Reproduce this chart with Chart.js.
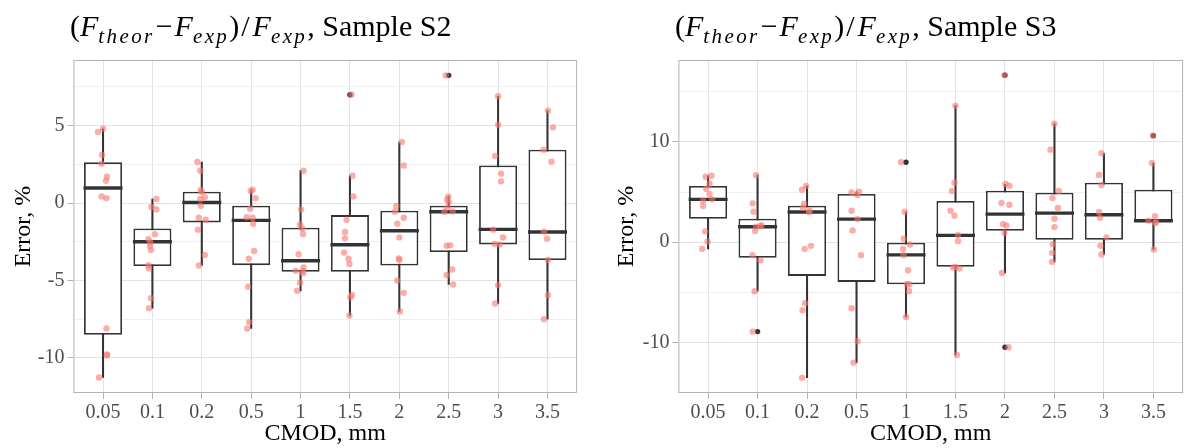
<!DOCTYPE html>
<html>
<head>
<meta charset="utf-8">
<script src="https://cdn.jsdelivr.net/npm/chart.js@4/dist/chart.umd.min.js"></script>
<style>
  body { margin: 0; width: 1202px; height: 448px; overflow: hidden; background: #fff; position: relative;
         font-family: 'Liberation Serif', 'Times New Roman', serif; }
  .panel { position: absolute; top: 0; height: 448px; }
  #leftPanel { left: 0; width: 600px; }
  #rightPanel { left: 600px; width: 606px; }
  .title { position: absolute; top: 6px; font-size: 30px; line-height: 40px; white-space: nowrap; color: #000; }
  .title i { font-style: italic; }
  .title sub { font-size: 21px; font-style: italic; letter-spacing: 2.4px; vertical-align: -7px; line-height: 0; }
  .title .m { padding: 0 2px 0 1px; }
  .title .s { padding: 0 3px 0 2px; }
</style>
</head>
<body>
<div class="panel" id="leftPanel">
  <canvas id="chartS2" width="600" height="448"></canvas>
  <div class="title" style="left:70px">(<i>F</i><sub>theor</sub><span class="m">−</span><i>F</i><sub>exp</sub>)<span class="s">/</span><i>F</i><sub>exp</sub>, Sample S2</div>
</div>
<div class="panel" id="rightPanel">
  <canvas id="chartS3" width="606" height="448"></canvas>
  <div class="title" style="left:75px">(<i>F</i><sub>theor</sub><span class="m">−</span><i>F</i><sub>exp</sub>)<span class="s">/</span><i>F</i><sub>exp</sub>, Sample S3</div>
</div>
<script>
///////Data
const cmod = ['0.05', '0.1', '0.2', '0.5', '1', '1.5', '2', '2.5', '3', '3.5'];

// Sample S2 box stats
const s2Lower = [-11.27, -6.79, -4.03, -8.10, -5.67, -7.26, -7.00, -5.26, -6.49, -7.50];
const s2Q1 = [-8.51, -4.07, -1.25, -4.01, -4.44, -4.44, -4.03, -3.17, -2.67, -3.68];
const s2Median = [0.97, -2.50, 0.04, -1.12, -3.73, -2.69, -1.79, -0.56, -1.70, -1.87];
const s2Q3 = [2.63, -1.64, 0.73, -0.17, -1.60, -0.78, -0.50, -0.17, 2.43, 3.45];
const s2Upper = [4.80, 0.26, 2.65, 0.86, 2.09, 1.76, 3.94, 0.41, 6.90, 5.97];
const s2OutCat = ['1.5', '2.5'];
const s2OutVal = [7.00, 8.25];
const s2Points = [
  [4.59, 4.80, 3.10, 2.54, 1.70, 1.44, 0.43, 0.32, -8.10, -9.78, -9.85, -11.27],
  [0.26, -0.26, -0.41, -2.02, -2.33, -2.55, -2.78, -3.04, -4.01, -4.22, -6.14, -6.79],
  [2.65, 2.09, 0.84, 0.73, 0.37, 0.26, -0.17, -0.95, -1.08, -1.72, -3.36, -4.03],
  [0.86, 0.78, 0.32, -0.37, -0.92, -0.95, -1.34, -3.10, -3.60, -5.41, -7.69, -8.10],
  [2.09, -0.41, -1.38, -1.64, -2.00, -3.30, -4.16, -4.38, -4.38, -4.53, -5.15, -5.67],
  [7.00, 1.76, 0.43, -1.08, -1.87, -2.28, -3.19, -3.60, -3.94, -5.93, -6.10, -7.26],
  [3.94, 2.43, -0.19, -0.56, -0.95, -1.34, -2.22, -3.58, -3.68, -5.00, -5.80, -7.00],
  [8.25, 0.41, 0.22, 0.06, -0.30, -0.56, -0.54, -2.76, -2.72, -4.29, -4.65, -5.26],
  [6.90, 5.06, 3.04, 1.90, 1.40, -1.72, -2.22, -2.65, -2.67, -5.30, -6.49],
  [5.97, 4.89, 3.45, 2.67, -1.85, -2.31, -3.68, -5.95, -7.50]
];
const s2Jitter = [
  [-0.10, 0.00, -0.02, -0.03, 0.08, 0.06, -0.03, 0.07, 0.07, 0.08, 0.08, -0.08],
  [0.08, -0.02, 0.08, 0.05, -0.08, -0.04, -0.05, -0.03, -0.08, -0.07, -0.03, -0.07],
  [-0.09, -0.03, -0.02, 0.00, 0.06, -0.03, -0.02, -0.06, 0.08, -0.08, 0.06, -0.06],
  [0.03, -0.01, 0.09, -0.02, -0.09, 0.03, 0.04, 0.06, -0.05, -0.06, -0.04, -0.08],
  [0.06, 0.01, -0.01, 0.03, 0.05, -0.04, 0.06, -0.10, 0.04, 0.05, -0.01, -0.07],
  [0.03, 0.05, 0.07, -0.07, -0.10, -0.10, -0.12, -0.03, -0.01, 0.04, 0.01, -0.01],
  [0.05, 0.09, -0.06, -0.09, 0.09, -0.04, 0.00, -0.01, 0.00, -0.04, 0.09, 0.01],
  [-0.06, -0.01, -0.03, 0.00, -0.03, -0.09, 0.08, -0.04, 0.03, 0.07, -0.04, 0.09],
  [0.00, 0.00, -0.06, 0.06, 0.06, -0.10, 0.10, -0.07, 0.03, 0.00, -0.06],
  [0.01, 0.11, -0.08, 0.08, -0.07, -0.01, 0.01, 0.01, -0.07]
];
const s2GridVals = [-10, -7.5, -5, -2.5, 0, 2.5, 5, 7.5];
const s2TickLabels = [-10, -5, 0, 5];

// Sample S3 box stats
const s3Lower = [-0.67, -4.90, -13.53, -12.03, -7.47, -11.27, -3.07, -1.97, -1.23, -0.73];
const s3Q1 = [2.33, -1.57, -3.37, -3.97, -4.20, -2.47, 1.13, 0.23, 0.23, 2.03];
const s3Median = [4.27, 1.53, 3.00, 2.30, -1.27, 0.67, 2.80, 2.90, 2.73, 2.13];
const s3Q3 = [5.60, 2.33, 3.63, 4.80, 0.00, 4.10, 5.13, 4.93, 5.93, 5.23];
const s3Upper = [6.63, 6.67, 5.60, 5.03, 3.03, 13.63, 5.75, 11.83, 8.87, 7.90];
const s3OutCat = ['0.1', '1', '2', '2', '3.5'];
const s3OutVal = [-8.93, 7.97, 16.67, -10.50, 10.63];
const s3Points = [
  [6.63, 6.53, 5.83, 5.33, 4.80, 4.27, 4.13, 3.60, 1.07, 0.07, -0.67],
  [6.67, 3.87, 3.03, 1.70, 1.60, 1.53, 1.10, -1.30, -1.80, -4.90, -8.93],
  [5.60, 5.23, 3.83, 3.43, 3.17, 2.97, -0.37, -0.67, -6.10, -6.80, -13.53],
  [5.03, 4.97, 4.70, 3.13, 2.30, 1.17, -1.30, -6.60, -9.90, -12.03],
  [7.97, 3.03, 0.33, -0.23, -0.67, -1.30, -2.80, -4.20, -4.20, -4.90, -7.47],
  [13.63, 5.93, 5.10, 3.13, 2.63, 0.70, 0.10, -2.47, -2.53, -2.63, -11.27],
  [16.67, 5.80, 5.63, 3.90, 3.73, 1.80, 1.67, 0.93, -3.07, -10.50],
  [11.83, 9.23, 5.10, 4.40, 3.40, 2.33, 1.50, -0.20, -1.07, -1.97],
  [8.87, 6.70, 5.70, 3.00, 2.43, 0.47, -0.37, -1.23],
  [10.63, 7.90, 2.60, 2.13, 2.03, 1.90, -0.73]
];
const s3Jitter = [
  [0.07, -0.05, 0.03, -0.04, 0.03, 0.08, -0.10, -0.10, -0.06, -0.01, -0.12],
  [-0.03, -0.10, -0.08, 0.08, 0.05, -0.03, -0.05, -0.10, 0.06, -0.06, -0.10],
  [-0.02, -0.10, -0.06, -0.08, 0.05, 0.04, 0.08, -0.05, -0.04, -0.09, -0.10],
  [0.05, -0.10, 0.02, -0.10, 0.02, -0.08, 0.09, -0.10, 0.02, -0.06],
  [-0.10, -0.03, -0.05, 0.08, -0.06, -0.05, 0.04, 0.02, 0.07, 0.06, 0.00],
  [0.00, -0.02, -0.07, -0.10, -0.02, 0.05, 0.05, 0.00, -0.05, 0.08, 0.03],
  [-0.01, 0.01, 0.09, -0.07, 0.09, -0.04, 0.03, -0.01, -0.06, 0.07],
  [0.00, -0.08, 0.09, -0.04, 0.07, 0.00, 0.00, -0.03, -0.05, -0.05],
  [-0.05, -0.10, -0.05, -0.10, -0.08, 0.05, -0.07, -0.05],
  [-0.01, -0.03, 0.03, -0.10, 0.05, 0.04, 0.01]
];
const s3GridVals = [-15, -10, -5, 0, 5, 10, 15];
const s3TickLabels = [-10, 0, 10];

//////Styles
const serif = "'Liberation Serif', 'Times New Roman', serif";
const lineCol = '#333333';
const pointCol = 'rgba(248, 118, 109, 0.6)';

// ggplot-like panel border on all four sides
const panelBorder = {
  id: 'panelBorder',
  afterDraw(chart) {
    const { ctx, chartArea: a } = chart;
    ctx.save();
    ctx.strokeStyle = '#b3b3b3';
    ctx.lineWidth = 1;
    ctx.strokeRect(a.left + 0.5, a.top + 0.5, a.right - a.left - 1, a.bottom - a.top - 1);
    ctx.restore();
  }
};

function makeChart(id, d) {
  const whiskers = d.lower.map((lo, i) => ({ x: i, y: [lo, d.upper[i]] }));
  const boxes = d.q1.map((q, i) => ({ x: i, y: [q, d.q3[i]] }));
  const medians = d.median.map((m, i) => ({ x: i, y: m }));
  const outliers = d.outCat.map((c, i) => ({ x: cmod.indexOf(c), y: d.outVal[i] }));
  const jitter = [];
  d.points.forEach((grp, i) => {
    grp.forEach((v, k) => jitter.push({ x: i + d.jitter[i][k], y: v }));
  });

  return new Chart(document.getElementById(id), {
    type: 'bar',
    data: {
      datasets: [
        { type: 'bar', data: whiskers, backgroundColor: lineCol, borderWidth: 0,
          barThickness: 1.4, grouped: false, order: 5 },
        { type: 'bar', data: boxes, backgroundColor: '#ffffff', borderColor: lineCol, borderWidth: 1.8,
          borderSkipped: false, barPercentage: 0.77, categoryPercentage: 1, grouped: false, order: 4 },
        { type: 'scatter', data: medians, pointStyle: 'line', pointRadius: 19.5, borderColor: lineCol,
          borderWidth: 3.4, order: 3 },
        { type: 'scatter', data: outliers, backgroundColor: lineCol, pointRadius: 2.7, borderWidth: 0, order: 2 },
        { type: 'scatter', data: jitter, backgroundColor: pointCol, pointRadius: 3.2, borderWidth: 0, order: 1 }
      ]
    },
    options: {
      responsive: false,
      animation: false,
      events: [],
      layout: { padding: { top: 60, right: d.padRight, bottom: 0, left: 0 } },
      plugins: { legend: { display: false }, tooltip: { enabled: false } },
      scales: {
        x: {
          type: 'linear',
          min: -0.6,
          max: 9.6,
          offset: false,
          afterBuildTicks: (s) => { s.ticks = cmod.map((c, i) => ({ value: i })); },
          afterFit: (s) => { s.height = 55; },
          ticks: {
            callback: (v, i) => cmod[i],
            autoSkip: false, maxRotation: 0, padding: 2,
            color: '#4d4d4d', font: { family: serif, size: 20 }
          },
          grid: { offset: false, color: '#e3e3e3', lineWidth: 1, tickColor: '#b3b3b3', tickLength: 6 },
          border: { display: false },
          title: { display: true, text: 'CMOD, mm', color: '#000', font: { family: serif, size: 24 },
                   padding: { top: 0, bottom: 0 } }
        },
        y: {
          min: d.yMin,
          max: d.yMax,
          afterBuildTicks: (s) => { s.ticks = d.gridVals.map((v) => ({ value: v })); },
          afterFit: (s) => { s.width = d.yWidth; },
          ticks: {
            callback: (v) => (d.tickLabels.includes(v) ? String(v) : ''),
            padding: 3, color: '#4d4d4d', font: { family: serif, size: 20 }
          },
          grid: {
            color: (c) => (d.tickLabels.includes(c.tick.value) ? '#e3e3e3' : '#f0f0f0'),
            tickColor: (c) => (d.tickLabels.includes(c.tick.value) ? '#b3b3b3' : 'rgba(0,0,0,0)'),
            lineWidth: 1, tickLength: 6
          },
          border: { display: false },
          title: { display: true, text: 'Error, %', color: '#000', font: { family: serif, size: 24 },
                   padding: { top: d.titlePad, bottom: 0 } }
        }
      }
    },
    plugins: [panelBorder]
  });
}

/////////// run
makeChart('chartS2', {
  lower: s2Lower, q1: s2Q1, median: s2Median, q3: s2Q3, upper: s2Upper,
  outCat: s2OutCat, outVal: s2OutVal, points: s2Points, jitter: s2Jitter,
  gridVals: s2GridVals, tickLabels: s2TickLabels,
  yMin: -12.27, yMax: 9.24, yWidth: 73.4, padRight: 1.8, titlePad: 9
});
makeChart('chartS3', {
  lower: s3Lower, q1: s3Q1, median: s3Median, q3: s3Q3, upper: s3Upper,
  outCat: s3OutCat, outVal: s3OutVal, points: s3Points, jitter: s3Jitter,
  gridVals: s3GridVals, tickLabels: s3TickLabels,
  yMin: -15.06, yMax: 18.18, yWidth: 78.4, padRight: 2.4, titlePad: 12
});
</script>
</body>
</html>
